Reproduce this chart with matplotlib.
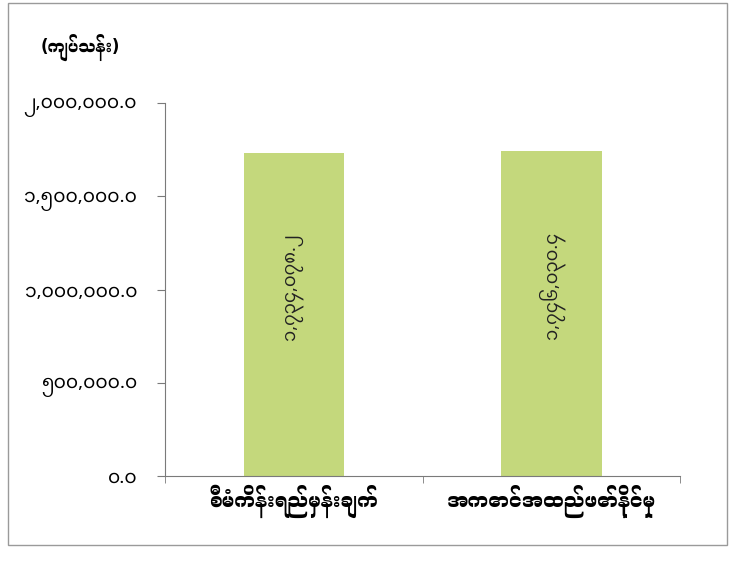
import matplotlib
matplotlib.use('Agg')
import matplotlib.pyplot as plt
from matplotlib import font_manager as fm
from matplotlib.ft2font import FT2Font
from matplotlib.patches import Rectangle
from matplotlib.ticker import FuncFormatter, MultipleLocator

# ── Dati ─────────────────────────────────────────────────────
categories = ["စီမံကိန်းရည်မှန်းချက်", "အကောင်အထည်ဖော်နိုင်မှု"]
values = [1734078.2, 1746030.4]
unit_label = "(ကျပ်သန်း)"

BAR_COLOR = "#c4d87c"
AXIS_COLOR = '#7a7a7a'
MM_DIGITS = str.maketrans("0123456789", "၀၁၂၃၄၅၆၇၈၉")

plt.rcParams['font.family'] = ['Noto Sans Myanmar', 'Padauk', 'DejaVu Sans']


def bold_myanmar_family():
    # registra il file birmano in grassetto e restituisce il nome della famiglia
    cands = []
    for path in fm.findSystemFonts():
        try:
            f = FT2Font(path)
            if 0x1000 in f.get_charmap() and 'Bold' in f.style_name:
                cands.append((f.family_name != 'Noto Sans Myanmar', 'UI' in f.family_name,
                              path, f.family_name))
        except Exception:
            pass
    if not cands:
        return 'Noto Sans Myanmar'
    best = sorted(cands)[0]
    fm.fontManager.addfont(best[2])
    return fm.FontProperties(fname=best[2]).get_name()


BOLD_FAMILY = [bold_myanmar_family(), 'DejaVu Sans']


def mm_num(v, pos=None):
    return f"{v:,.1f}".translate(MM_DIGITS)


fig = plt.figure(figsize=(7.33, 5.73), dpi=100)
# cornice esterna grigia
fig.patches.append(Rectangle((0.011, 0.049), 0.981, 0.946, transform=fig.transFigure,
                             fill=False, edgecolor='#9a9a9a', linewidth=1.0))

ax = fig.add_axes([0.225, 0.169, 0.703, 0.651])
x = range(len(categories))
ax.bar(x, values, width=0.39, color=BAR_COLOR, zorder=2)

# etichette dei valori, ruotate dentro le barre
for xi, v in zip(x, values):
    ax.text(xi, v * 0.585, mm_num(v), rotation=90, ha='center', va='center',
            fontsize=13, color='#222222')

ax.set_xlim(-0.5, 1.5)
ax.set_ylim(0, 2000000)
ax.yaxis.set_major_locator(MultipleLocator(500000))
ax.yaxis.set_major_formatter(FuncFormatter(mm_num))
ax.set_xticks(x)
ax.set_xticklabels(categories, family=BOLD_FAMILY, fontweight='bold', fontsize=14.5)
ax.tick_params(axis='x', length=0, pad=6)
ax.set_xticks([-0.5, 0.5, 1.5], minor=True)
ax.tick_params(axis='x', which='minor', length=5, direction='out', color=AXIS_COLOR)
ax.tick_params(axis='y', labelsize=13.5, length=6, color=AXIS_COLOR, pad=14)

for s in ('top', 'right'):
    ax.spines[s].set_visible(False)
for s in ('left', 'bottom'):
    ax.spines[s].set_color(AXIS_COLOR)

fig.text(0.055, 0.918, unit_label, family=BOLD_FAMILY, fontweight='bold', fontsize=12,
         ha='left', va='center')

fig.savefig("out.png", dpi=100)
